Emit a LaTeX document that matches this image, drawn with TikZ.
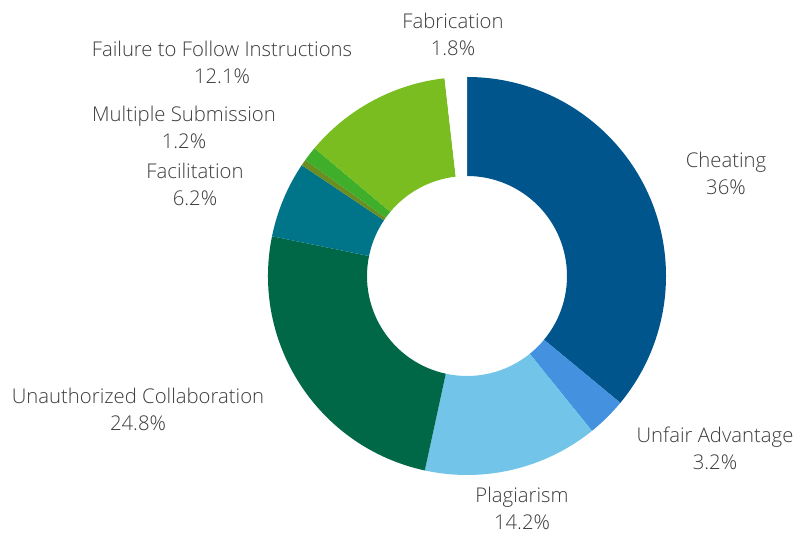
\documentclass[tikz,border=0pt]{standalone}
\usepackage{fontspec}
\setmainfont{Open Sans}[UprightFont=* Light]
\definecolor{cheatblue}{HTML}{00568C}
\definecolor{unfairblue}{HTML}{4391DF}
\definecolor{plagblue}{HTML}{72C5E8}
\definecolor{collabgreen}{HTML}{006847}
\definecolor{facilteal}{HTML}{00758A}
\definecolor{olivegreen}{HTML}{6B8E23}
\definecolor{multigreen}{HTML}{3FAE2A}
\definecolor{failgreen}{HTML}{7ABD21}
\definecolor{labelgray}{HTML}{3C3C3C}

\begin{document}
\begin{tikzpicture} [x=1pt, y=1pt, font=\fontsize{20.3}{27}\selectfont, text=labelgray]
    \useasboundingbox (0,0) rectangle (811,535);
    % donut slices, clockwise from the top
    \begin{scope}[shift={(467,259)}]
    \foreach \from/\to/\col in {90/-39.6/cheatblue, -39.6/-51.12/unfairblue,
        -51.12/-102.24/plagblue, -102.24/-191.52/collabgreen,
        168.48/146.16/facilteal, 146.16/144.36/olivegreen,
        144.36/140.04/multigreen, 140.04/96.48/failgreen, 96.48/90/white}
        \fill [\col] (\from:199) arc [start angle=\from, end angle=\to, radius=199]
            -- (\to:100) arc [start angle=\to, end angle=\from, radius=100] -- cycle;
    \end{scope}

    \node (cheat)  [align=center] at (726,362) {Cheating\\36\%};
    \node (unfair) [align=center] at (715,87)  {Unfair Advantage\\3.2\%};
    \node (plag)   [align=center] at (522,27)  {Plagiarism\\14.2\%};
    \node (collab) [align=center] at (138,126) {Unauthorized Collaboration\\24.8\%};
    \node (facil)  [align=center] at (195,351) {Facilitation\\6.2\%};
    \node (multi)  [align=center] at (184,408) {Multiple Submission\\1.2\%};
    \node (fail)   [align=center] at (222,473) {Failure to Follow Instructions\\12.1\%};
    \node (fabr)   [align=center] at (453,501) {Fabrication\\1.8\%};
\end{tikzpicture}
\end{document}
